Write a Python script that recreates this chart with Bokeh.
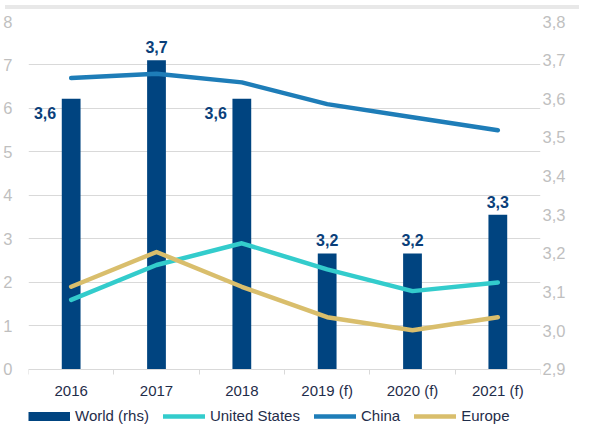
import numpy as np
from bokeh.plotting import figure
from bokeh.models import (Range1d, LinearAxis, FixedTicker, CustomJSTickFormatter,
                          ColumnDataSource, Legend, LegendItem, Div)
from bokeh.layouts import column
from bokeh.core.properties import value
from bokeh.embed import file_html
from bokeh.resources import INLINE

# ---- data ----
categories = ["2016", "2017", "2018", "2019 (f)", "2020 (f)", "2021 (f)"]
world = [3.6, 3.7, 3.6, 3.2, 3.2, 3.3]            # right axis
united_states = [1.6, 2.4, 2.9, 2.3, 1.8, 2.0]   # left axis
china = [6.7, 6.8, 6.6, 6.1, 5.8, 5.5]
europe = [1.9, 2.7, 1.9, 1.2, 0.9, 1.2]
left_ticks = [0, 1, 2, 3, 4, 5, 6, 7, 8]
right_ticks = [2.9, 3.0, 3.1, 3.2, 3.3, 3.4, 3.5, 3.6, 3.7, 3.8]
labels_left_of_bar = [0, 2]          # indices whose value label sits beside the bar
labels_above_bar = [1, 3, 4, 5]

FONT = "Liberation Sans"
NAVY = "#004480"
TEXT = "#1F2D4A"
GRAY = "#BFBFBF"
GRID = "#D9D9D9"

n = len(categories)
xc = list(np.arange(n) + 0.5)          # category centres on a 0..n scale

# the frame extends below the zero line to hold the category labels and legend
LEFT_MIN = -1.29
ratio = (right_ticks[-1] - right_ticks[0]) / (left_ticks[-1] - left_ticks[0])
RIGHT_MIN = right_ticks[0] + LEFT_MIN * ratio

p = figure(x_range=Range1d(0, n), y_range=Range1d(LEFT_MIN, left_ticks[-1]),
           width=574, height=411, x_axis_location="below", y_axis_location="left",
           output_backend="svg", toolbar_location=None,
           min_border_left=27, min_border_right=34, min_border_top=7, min_border_bottom=0)
p.outline_line_color = None
p.background_fill_color = "white"
p.border_fill_color = "white"
p.extra_y_ranges = {"right": Range1d(RIGHT_MIN, right_ticks[-1])}

# grid
p.ygrid.ticker = FixedTicker(ticks=left_ticks)
p.ygrid.grid_line_color = GRID
p.ygrid.grid_line_width = 1
p.xgrid.visible = False

# left axis
la = p.yaxis[0]
la.ticker = FixedTicker(ticks=left_ticks)
la.axis_line_color = None
la.major_tick_line_color = None
la.major_tick_out = 0
la.major_tick_in = 0
la.minor_tick_line_color = None
la.minor_tick_out = 0
la.major_label_text_color = GRAY
la.major_label_text_font = FONT
la.major_label_text_font_size = "16.5px"
la.major_label_standoff = 16

# right axis
ra = LinearAxis(y_range_name="right", ticker=FixedTicker(ticks=right_ticks),
                formatter=CustomJSTickFormatter(code="return tick.toFixed(1).replace('.', ',');"))
ra.axis_line_color = None
ra.major_tick_line_color = None
ra.major_tick_out = 0
ra.major_tick_in = 0
ra.minor_tick_line_color = None
ra.minor_tick_out = 0
ra.major_label_text_color = GRAY
ra.major_label_text_font = FONT
ra.major_label_text_font_size = "16.5px"
ra.major_label_standoff = 2
p.add_layout(ra, "right")

# bottom axis at y=0: labels at category centres, ticks at category boundaries
xa = p.xaxis[0]
xa.fixed_location = 0
xa.ticker = FixedTicker(ticks=xc, minor_ticks=list(range(n + 1)))
xa.formatter = CustomJSTickFormatter(args=dict(cats=categories),
                                     code="return cats[Math.floor(tick)];")
xa.axis_line_color = GRID
xa.major_tick_line_color = None
xa.major_tick_out = 0
xa.major_tick_in = 0
xa.minor_tick_line_color = GRID
xa.minor_tick_out = 5
xa.minor_tick_in = 0
xa.major_label_text_color = TEXT
xa.major_label_text_font = FONT
xa.major_label_text_font_size = "15px"
xa.major_label_standoff = 8

# bars (right axis)
src = ColumnDataSource(dict(x=xc, world=world, us=united_states, china=china, europe=europe))
p.vbar(x="x", top="world", bottom=right_ticks[0], width=0.22, source=src,
       y_range_name="right", fill_color=NAVY, line_color=None)

us_r = p.line("x", "us", source=src, line_color="#33CCCC", line_width=4.5, line_cap="round", line_join="round")
cn_r = p.line("x", "china", source=src, line_color="#1E7DB8", line_width=4.5, line_cap="round", line_join="round")
eu_r = p.line("x", "europe", source=src, line_color="#D9BE6C", line_width=4.5, line_cap="round", line_join="round")

# value labels
def subset(idx):
    return ColumnDataSource(dict(x=[xc[i] for i in idx], world=[world[i] for i in idx],
                                 lab=[f"{world[i]:.1f}".replace(".", ",") for i in idx]))

p.text(x="x", y="world", text="lab", source=subset(labels_above_bar), y_range_name="right",
       text_align="center", text_baseline="middle", y_offset=-13,
       text_font=value(FONT), text_font_style="bold", text_font_size="16px", text_color="#0A3F7A")
p.text(x="x", y="world", text="lab", source=subset(labels_left_of_bar), y_range_name="right",
       text_align="right", text_baseline="middle", x_offset=-15, y_offset=14,
       text_font=value(FONT), text_font_style="bold", text_font_size="16px", text_color="#0A3F7A")

# legend (World swatch: a thick line that draws nothing in the plot itself)
world_swatch = p.line(x=[np.nan], y=[np.nan], line_color=NAVY, line_width=9, line_cap="butt")
legend = Legend(items=[LegendItem(label="World (rhs)", renderers=[world_swatch]),
                       LegendItem(label="United States", renderers=[us_r]),
                       LegendItem(label="China", renderers=[cn_r]),
                       LegendItem(label="Europe", renderers=[eu_r])],
                orientation="horizontal", location=(0, 1),
                glyph_width=42, glyph_height=14, label_height=14, label_standoff=5, spacing=14,
                padding=0, margin=0, border_line_color=None, background_fill_alpha=0,
                label_text_font=FONT, label_text_font_size="15px", label_text_color=TEXT)
p.add_layout(legend)

band = Div(width=574, height=4, styles={"background-color": "#E8E8E8"})
layout = column(band, p, spacing=0)

open("out.html", "w").write(file_html(layout, INLINE))
